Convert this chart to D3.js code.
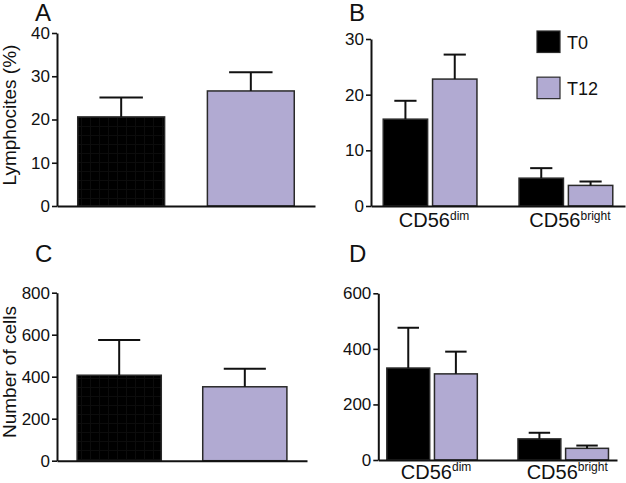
<!DOCTYPE html>
<html>
<head>
<meta charset="utf-8">
<script src="https://cdn.jsdelivr.net/npm/d3@7"></script>
<style>
  html, body { margin: 0; padding: 0; background: #fff; }
  svg { display: block; font-family: "Liberation Sans", Arial, sans-serif; }
</style>
</head>
<body>
<svg id="chart" width="626" height="483"></svg>
<script>
// ---------------- data ----------------
const timepoints = ["T0", "T12"];
const subsets = ["CD56dim", "CD56bright"];

// Panel A: lymphocytes (%)
const lymphMean = [20.6, 26.6];
const lymphSem  = [4.5, 4.3];
const lymphTicks = [0, 10, 20, 30, 40];

// Panel B: subset percentages per subset
const pctMeanT0  = [15.6, 5.0];
const pctSemT0   = [3.3, 1.8];
const pctMeanT12 = [22.8, 3.7];
const pctSemT12  = [4.4, 0.7];
const pctTicks = [0, 10, 20, 30];

// Panel C: number of cells
const cellMean = [407, 352];
const cellSem  = [168, 86];
const cellTicks = [0, 200, 400, 600, 800];

// Panel D: subset counts
const cntMeanT0  = [331, 76];
const cntSemT0   = [145, 22];
const cntMeanT12 = [310, 42];
const cntSemT12  = [80, 10];
const cntTicks = [0, 200, 400, 600];

const colors = { T0: "#000000", T12: "#b1aad2" };
const stroke = "#2a2a2a";

const svg = d3.select("#chart");

// faint texture for black bars of A and C
const defs = svg.append("defs");
const pat = defs.append("pattern").attr("id", "grid").attr("width", 9).attr("height", 9)
  .attr("patternUnits", "userSpaceOnUse");
pat.append("rect").attr("width", 9).attr("height", 9).attr("fill", "#000");
pat.append("path").attr("d", "M0 0.5H9M0.5 0V9").attr("stroke", "#0c0c0c").attr("stroke-width", 1);

function yAxis(g, y, ticks) {
  g.call(d3.axisLeft(y).tickValues(ticks).tickSize(5).tickPadding(2).tickSizeOuter(0));
  g.select(".domain").attr("stroke", "#111").attr("stroke-width", 2);
  g.selectAll(".tick line").attr("stroke", "#111").attr("stroke-width", 1.6);
  g.selectAll(".tick text").attr("font-size", 17).attr("fill", "#111")
    .attr("font-family", "Liberation Sans, Arial, sans-serif");
}

function errorBar(g, cx, half, y, mean, sem) {
  g.append("line").attr("x1", cx).attr("x2", cx).attr("y1", y(mean)).attr("y2", y(mean + sem))
    .attr("stroke", "#111").attr("stroke-width", 2);
  g.append("line").attr("x1", cx - half).attr("x2", cx + half)
    .attr("y1", y(mean + sem)).attr("y2", y(mean + sem))
    .attr("stroke", "#111").attr("stroke-width", 2);
}

function simplePanel(opts) {
  const { xRange, yRange, yMax, ticks, mean, sem, title, letter, letterPos, titlePos } = opts;
  const x = d3.scaleBand().domain(timepoints).range(xRange).paddingInner(0.33).paddingOuter(0.16);
  const y = d3.scaleLinear().domain([0, yMax]).range(yRange);
  const g = svg.append("g");
  timepoints.forEach((t, i) => {
    g.append("rect").attr("x", x(t)).attr("y", y(mean[i]))
      .attr("width", x.bandwidth()).attr("height", y(0) - y(mean[i]))
      .attr("fill", i === 0 ? "url(#grid)" : colors[t])
      .attr("stroke", stroke).attr("stroke-width", 1.5);
    errorBar(g, x(t) + x.bandwidth() / 2, x.bandwidth() / 4, y, mean[i], sem[i]);
  });
  const xa = g.append("g").attr("transform", `translate(0,${y(0)})`)
    .call(d3.axisBottom(x).tickValues([]).tickSizeOuter(0));
  xa.select(".domain").attr("stroke", "#111").attr("stroke-width", 2);
  const ya = g.append("g").attr("transform", `translate(${xRange[0]},0)`);
  yAxis(ya, y, ticks);
  g.append("text").attr("transform", `translate(${titlePos[0]},${titlePos[1]}) rotate(-90)`)
    .attr("text-anchor", "middle").attr("font-size", 19).attr("fill", "#111").text(title);
  svg.append("text").attr("x", letterPos[0]).attr("y", letterPos[1])
    .attr("font-size", 24).attr("fill", "#111").text(letter);
}

function groupedPanel(opts) {
  const { xRange, yRange, yMax, ticks, m0, s0, m1, s1, letter, letterPos, pOuter, labelY } = opts;
  const x0 = d3.scaleBand().domain(subsets).range(xRange).paddingInner(0.31).paddingOuter(pOuter);
  const x1 = d3.scaleBand().domain(timepoints).range([0, x0.bandwidth()]).paddingInner(0.1);
  const y = d3.scaleLinear().domain([0, yMax]).range(yRange);
  const g = svg.append("g");
  const means = { T0: m0, T12: m1 };
  const sems = { T0: s0, T12: s1 };
  subsets.forEach((s, si) => {
    timepoints.forEach(t => {
      const bx = x0(s) + x1(t);
      const v = means[t][si];
      g.append("rect").attr("x", bx).attr("y", y(v))
        .attr("width", x1.bandwidth()).attr("height", y(0) - y(v))
        .attr("fill", colors[t]).attr("stroke", stroke).attr("stroke-width", 1.5);
      errorBar(g, bx + x1.bandwidth() / 2, x1.bandwidth() / 4, y, v, sems[t][si]);
    });
  });
  const xa = g.append("g").attr("transform", `translate(0,${y(0)})`)
    .call(d3.axisBottom(x0).tickSize(0).tickSizeOuter(0).tickPadding(0));
  xa.select(".domain").attr("stroke", "#111").attr("stroke-width", 2);
  xa.selectAll(".tick text").each(function(d) {
    const t = d3.select(this);
    t.text(null).attr("dy", null).attr("y", labelY - y(0)).attr("x", 4)
      .attr("font-size", 20).attr("fill", "#111")
      .attr("font-family", "Liberation Sans, Arial, sans-serif");
    t.append("tspan").text("CD56");
    t.append("tspan").attr("font-size", 12).attr("dy", -7.5).text(d.replace("CD56", ""));
  });
  const ya = g.append("g").attr("transform", `translate(${xRange[0]},0)`);
  yAxis(ya, y, ticks);
  svg.append("text").attr("x", letterPos[0]).attr("y", letterPos[1])
    .attr("font-size", 24).attr("fill", "#111").text(letter);
}

// Panel A
simplePanel({ xRange: [57, 315], yRange: [206, 33], yMax: 40, ticks: lymphTicks,
  mean: lymphMean, sem: lymphSem, title: "Lymphocites (%)", letter: "A",
  letterPos: [35, 20.5], titlePos: [16, 115] });

// Panel B
groupedPanel({ xRange: [371, 625], yRange: [206, 39], yMax: 30, ticks: pctTicks,
  m0: pctMeanT0, s0: pctSemT0, m1: pctMeanT12, s1: pctSemT12, letter: "B",
  letterPos: [349, 20.5], pOuter: 0.09, labelY: 227 });

// Panel C
simplePanel({ xRange: [57, 307], yRange: [460.7, 292.7], yMax: 800, ticks: cellTicks,
  mean: cellMean, sem: cellSem, title: "Number of cells", letter: "C",
  letterPos: [35, 262], titlePos: [16, 372] });

// Panel D
groupedPanel({ xRange: [378.3, 617], yRange: [460, 293.3], yMax: 600, ticks: cntTicks,
  m0: cntMeanT0, s0: cntSemT0, m1: cntMeanT12, s1: cntSemT12, letter: "D",
  letterPos: [349, 262], pOuter: 0.065, labelY: 478.5 });

// Legend (panel B)
const legend = svg.append("g");
const legY = d3.scaleBand().domain(timepoints).range([31, 91]).paddingInner(0.7);
timepoints.forEach(t => {
  legend.append("rect").attr("x", 537).attr("y", legY(t)).attr("width", 23).attr("height", 21.5)
    .attr("fill", colors[t]).attr("stroke", stroke).attr("stroke-width", 1.2);
  legend.append("text").attr("x", 567).attr("y", legY(t) + 17.5)
    .attr("font-size", 18).attr("fill", "#111").text(t);
});
</script>
</body>
</html>
